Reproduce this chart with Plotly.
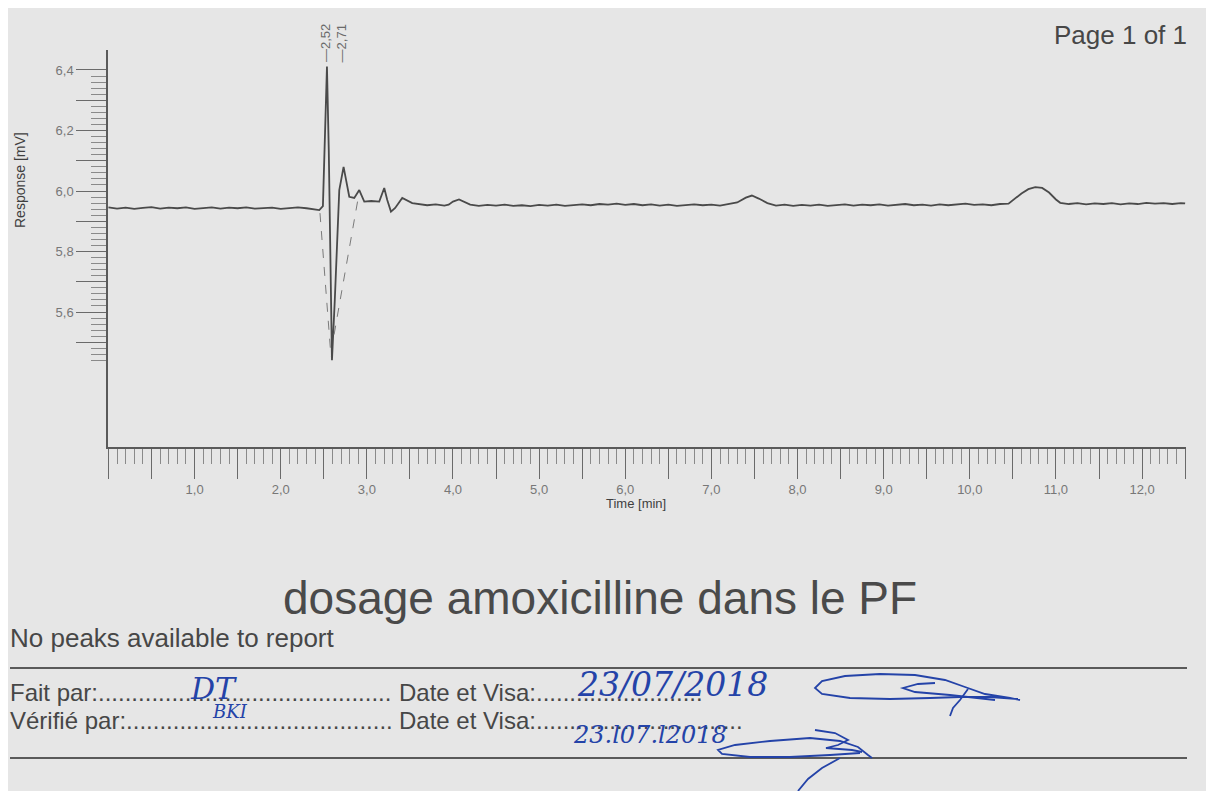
import plotly.graph_objects as go

# ---------------- data ----------------
time_min = [
    0.0, 0.1, 0.2, 0.3, 0.4, 0.5, 0.6, 0.7, 0.8, 0.9, 1.0, 1.1, 1.2, 1.3, 1.4,
    1.5, 1.6, 1.7, 1.8, 1.9, 2.0, 2.1, 2.2, 2.3, 2.4, 2.448, 2.49, 2.506, 2.537,
    2.558, 2.575, 2.595, 2.628, 2.657, 2.68, 2.73, 2.761, 2.796, 2.854, 2.912,
    2.97, 3.051, 3.144, 3.202, 3.237, 3.28, 3.329, 3.411, 3.527, 3.6, 3.7, 3.8,
    3.9, 3.95, 4.0, 4.07, 4.15, 4.2, 4.3, 4.4, 4.5, 4.6, 4.7, 4.8, 4.9, 5.0,
    5.1, 5.2, 5.3, 5.4, 5.5, 5.6, 5.7, 5.8, 5.9, 6.0, 6.1, 6.2, 6.3, 6.4, 6.5,
    6.6, 6.7, 6.8, 6.9, 7.0, 7.1, 7.2, 7.3, 7.4, 7.47, 7.55, 7.65, 7.75, 7.85,
    7.95, 8.05, 8.15, 8.25, 8.35, 8.45, 8.55, 8.65, 8.75, 8.85, 8.95, 9.05,
    9.15, 9.25, 9.35, 9.45, 9.55, 9.65, 9.75, 9.85, 9.95, 10.05, 10.15, 10.25,
    10.35, 10.45, 10.52, 10.6, 10.68, 10.76, 10.84, 10.92, 11.0, 11.05, 11.15,
    11.25, 11.35, 11.45, 11.55, 11.65, 11.75, 11.85, 11.95, 12.05, 12.15,
    12.25, 12.35, 12.45, 12.5,
]
response_mv = [
    5.946, 5.942, 5.945, 5.941, 5.944, 5.947, 5.942, 5.945, 5.943, 5.946, 5.941,
    5.944, 5.946, 5.942, 5.945, 5.943, 5.946, 5.942, 5.944, 5.945, 5.941, 5.944,
    5.946, 5.943, 5.940, 5.937, 5.950, 6.136, 6.411, 6.136, 5.805, 5.441, 5.640,
    5.871, 6.003, 6.080, 6.036, 5.981, 5.977, 6.003, 5.965, 5.967, 5.965, 6.010,
    5.970, 5.932, 5.944, 5.977, 5.960, 5.957, 5.953, 5.956, 5.952, 5.955, 5.965,
    5.972, 5.962, 5.955, 5.951, 5.954, 5.952, 5.955, 5.951, 5.953, 5.950, 5.954,
    5.952, 5.955, 5.951, 5.954, 5.956, 5.953, 5.957, 5.955, 5.958, 5.954, 5.957,
    5.953, 5.956, 5.952, 5.955, 5.951, 5.954, 5.956, 5.953, 5.955, 5.952, 5.956,
    5.962, 5.978, 5.985, 5.975, 5.960, 5.952, 5.955, 5.951, 5.954, 5.952, 5.955,
    5.951, 5.954, 5.956, 5.952, 5.955, 5.953, 5.956, 5.952, 5.954, 5.957, 5.953,
    5.955, 5.952, 5.956, 5.953, 5.955, 5.958, 5.954, 5.956, 5.953, 5.957, 5.958,
    5.975, 5.992, 6.006, 6.013, 6.010, 5.995, 5.972, 5.961, 5.957, 5.960, 5.956,
    5.959, 5.957, 5.960, 5.956, 5.959, 5.957, 5.961, 5.958, 5.960, 5.957, 5.960,
    5.959,
]

# integration drop lines (dashed)
drop_left_t = [2.456, 2.584]
drop_left_v = [5.927, 5.452]
drop_right_t = [2.892, 2.602]
drop_right_v = [5.965, 5.497]

# peak labels
peak_times = [2.52, 2.71]
peak_labels = ["\u20142,52", "\u20142,71"]

x_tick_vals = [i * 0.5 for i in range(26)]
x_tick_text = [("%d,0" % int(v)) if (v == int(v) and v > 0) else "" for v in x_tick_vals]
y_tick_vals = [5.5, 5.6, 5.7, 5.8, 5.9, 6.0, 6.1, 6.2, 6.3, 6.4]
y_tick_text = ["", "5,6", "", "5,8", "", "6,0", "", "6,2", "", "6,4"]

# ---------------- geometry helpers ----------------
# the page body adds an 8px margin, so the figure is 8px smaller than the window
OFF = 8
W, H = 1214 - OFF, 791 - OFF
ML, MR, MT, MB = 108 - OFF, 28, 50 - OFF, 344
PW, PH = W - ML - MR, H - MT - MB


def px(X, Y):
    """reference-screenshot pixel -> paper coords"""
    return (X - OFF - ML) / PW, (H - MB - (Y - OFF)) / PH


GRAY_TXT = "#474747"
BLUE = "#2443a8"
FONT = "Liberation Sans, Arial, sans-serif"

fig = go.Figure()
fig.add_trace(go.Scatter(x=time_min, y=response_mv, mode="lines",
                         line=dict(color="#4a4a4a", width=1.8), hoverinfo="skip"))
for tt, vv in ((drop_left_t, drop_left_v), (drop_right_t, drop_right_v)):
    fig.add_trace(go.Scatter(x=tt, y=vv, mode="lines",
                             line=dict(color="#7a7a7a", width=1, dash="dash")))

minor_x = [round(i * 0.1, 2) for i in range(126) if i % 5 != 0]
minor_y = [round(5.44 + i * 0.02, 2) for i in range(48)]
minor_y = [v for v in minor_y if round(v * 10) / 10 != v]

shapes = []
for Y in (668, 758):
    a, b = px(10, Y)
    c, _ = px(1187, Y)
    shapes.append(dict(type="line", xref="paper", yref="paper", x0=a, y0=b, x1=c, y1=b,
                       line=dict(color="#5a5a5a", width=2)))


def path_from(points):
    pts = [px(X, Y) for X, Y in points]
    return "M " + " L ".join("%.5f,%.5f" % p for p in pts)


sig_strokes = [
    [(1018, 699), (990, 697), (960, 697), (930, 698), (890, 699), (850, 698), (822, 694),
     (815, 688), (822, 681), (845, 676), (880, 674), (915, 675), (945, 680), (965, 687),
     (985, 694), (1010, 698), (1020, 700)],
    [(935, 683), (918, 684), (903, 688), (915, 692), (950, 695), (995, 700)],
    [(968, 689), (960, 700), (953, 708), (950, 716)],
    [(860, 753), (830, 755), (790, 757), (750, 757), (722, 754), (718, 750), (735, 745),
     (770, 741), (810, 738), (840, 741), (858, 747), (868, 755), (872, 758)],
    [(815, 730), (835, 733), (848, 740), (838, 745), (826, 748), (852, 750), (862, 752)],
    [(840, 758), (822, 768), (808, 779), (798, 791)],
]
for s in sig_strokes:
    shapes.append(dict(type="path", xref="paper", yref="paper", path=path_from(s),
                       line=dict(color=BLUE, width=1.8)))

ann = []


def text(X, Y, s, size, color=GRAY_TXT, xanchor="left", angle=0, family=FONT):
    a, b = px(X, Y)
    ann.append(dict(x=a, y=b, xref="paper", yref="paper", text=s, showarrow=False,
                    xanchor=xanchor, yanchor="middle", textangle=angle,
                    font=dict(size=size, color=color, family=family)))


text(1189, 35, "Page 1 of 1", 26, xanchor="right")
text(20, 180, "Response [mV]", 14, color="#3f3f3f", xanchor="center", angle=-90)
text(636, 503, "Time [min]", 13, color="#3f3f3f", xanchor="center")
text(600, 598, "dosage amoxicilline dans le PF", 46, color="#4a4a4a", xanchor="center")
text(8, 638, "No peaks available to report", 26)
text(8, 692, "Fait par:" + "." * 44, 24)
text(397, 692, "Date et Visa:" + "." * 25, 24)
text(8, 720, "Vérifié par:" + "." * 40, 24)
text(397, 720, "Date et Visa:" + "." * 31, 24)
HAND = "DejaVu Serif, serif"
text(213, 688, "<i>DT</i>", 30, color=BLUE, xanchor="center", family=HAND)
text(230, 711, "<i>BKI</i>", 18, color=BLUE, xanchor="center", family=HAND)
text(672, 684, "<i>23/07/2018</i>", 33, color=BLUE, xanchor="center", family=HAND)
text(650, 735, "<i>23.l07.l2018</i>", 24, color=BLUE, xanchor="center", family=HAND)

for t, lab in zip(peak_times, peak_labels):
    ann.append(dict(x=t, y=6.418, xref="x", yref="y", text=lab, showarrow=False,
                    textangle=-90, xanchor="center", yanchor="bottom",
                    font=dict(size=13, color="#6a6a6a", family=FONT)))

fig.update_layout(
    width=W, height=H, autosize=False,
    margin=dict(l=ML, r=MR, t=MT, b=MB, pad=0),
    paper_bgcolor="#e6e6e6", plot_bgcolor="rgba(0,0,0,0)",
    showlegend=False,
    shapes=shapes, annotations=ann,
    xaxis=dict(range=[-0.005, 12.51], showgrid=False, zeroline=False,
               showline=True, linecolor="#5a5a5a", linewidth=1.5,
               ticks="outside", tickmode="array", tickvals=x_tick_vals,
               ticktext=x_tick_text, ticklen=30, tickwidth=1, tickcolor="#6a6a6a",
               tickfont=dict(size=13, color="#777777", family=FONT),
               minor=dict(tickmode="array", tickvals=minor_x, ticks="outside",
                          ticklen=15, tickwidth=1, tickcolor="#8a8a8a")),
    yaxis=dict(range=[5.154, 6.466], showgrid=False, zeroline=False,
               showline=True, linecolor="#5a5a5a", linewidth=1.5,
               ticks="outside", tickmode="array", tickvals=y_tick_vals,
               ticktext=y_tick_text, ticklen=30, tickwidth=1, tickcolor="#6a6a6a",
               tickfont=dict(size=13, color="#777777", family=FONT),
               minor=dict(tickmode="array", tickvals=minor_y, ticks="outside",
                          ticklen=15, tickwidth=1, tickcolor="#8a8a8a")),
)

fig.write_html("out.html")
